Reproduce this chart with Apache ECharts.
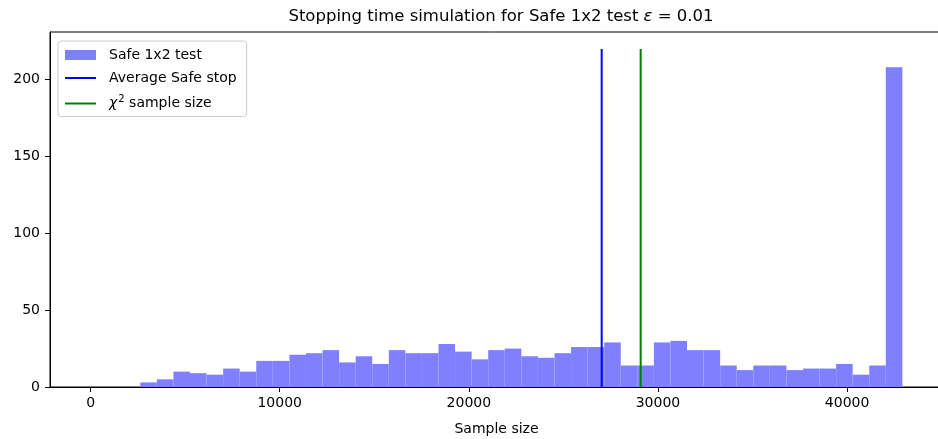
<!DOCTYPE html>
<html>
<head>
<meta charset="utf-8">
<script src="https://cdn.jsdelivr.net/npm/echarts@6/dist/echarts.min.js"></script>
<style>
  html, body { margin: 0; padding: 0; background: #fff; }
  #chart { width: 938px; height: 439px; }
</style>
</head>
<body>
<div id="chart"></div>
<script>
// histogram: 49 equal bins starting at 0
const binWidth = 876
const binCounts = [0, 0, 0, 3, 5, 10, 9, 8, 12, 10, 17, 17, 21, 22, 24, 16, 20, 15, 24, 22,
  22, 28, 23, 18, 24, 25, 20, 19, 22, 26, 26, 29, 14, 14, 29, 30, 24, 24, 14, 11,
  14, 14, 11, 12, 12, 15, 8, 14, 208]
const avgSafeStop = 27024
const chi2SampleSize = 29085
const lineTop = 220
const xTicks = [0, 10000, 20000, 30000, 40000]
const yTicks = [0, 50, 100, 150, 200]

const font = 'DejaVu Sans'
const lineIcon = 'path://M0,0H31V2H0Z'

const histData = binCounts.map((c, i) => [i * binWidth, (i + 1) * binWidth, c])

const chart = echarts.init(document.getElementById('chart'))

chart.setOption({
    animation: false,
    title: {
        text: '{a|Stopping time simulation for Safe 1x2 test }{e|ε}{a| = 0.01}',
        left: 496,
        textAlign: 'center',
        top: 3,
        textStyle: {
            fontWeight: 'normal',
            rich: {
                a: { fontFamily: font, fontSize: 16.5, fontWeight: 'normal', color: '#000' },
                e: { fontFamily: font, fontSize: 16.5, fontWeight: 'normal', fontStyle: 'italic', color: '#000' }
            }
        }
    },
    grid: {
        left: 50,
        top: 32,
        width: 893,
        bottom: 52,
        outerBoundsMode: 'none',
        show: true,
        borderColor: '#000',
        borderWidth: 1
    },
    legend: {
        orient: 'vertical',
        left: 58,
        top: 41,
        padding: [7, 10, 6, 7],
        itemGap: 9,
        itemWidth: 31,
        itemHeight: 10,
        backgroundColor: 'rgba(255,255,255,0.8)',
        borderColor: '#cccccc',
        borderWidth: 1,
        borderRadius: 3,
        data: [
            { name: 'Safe 1x2 test', icon: 'rect' },
            { name: 'Average Safe stop', icon: lineIcon },
            { name: 'χ² sample size', icon: lineIcon }
        ],
        formatter: name => name === 'χ² sample size' ? '{i|χ}{s|2}{t| sample size}' : name,
        textStyle: {
            fontFamily: font,
            fontSize: 14,
            color: '#000',
            padding: [0, 0, 0, 8],
            rich: {
                i: { fontFamily: font, fontSize: 14, fontStyle: 'italic', color: '#000' },
                s: { fontFamily: font, fontSize: 10, color: '#000', padding: [0, 0, 9, 1] },
                t: { fontFamily: font, fontSize: 14, color: '#000' }
            }
        }
    },
    xAxis: {
        type: 'value',
        min: -2146,
        max: 45071,
        name: 'Sample size',
        nameLocation: 'middle',
        nameGap: 35,
        nameTextStyle: { fontFamily: font, fontSize: 14, color: '#000' },
        splitLine: { show: false },
        axisLine: { onZero: false, lineStyle: { color: '#000', width: 1 } },
        axisTick: { show: true, length: 5, lineStyle: { color: '#000' }, customValues: xTicks },
        axisLabel: {
            fontFamily: font, fontSize: 14, color: '#000', margin: 9,
            customValues: xTicks,
            formatter: v => String(v)
        }
    },
    yAxis: {
        type: 'value',
        min: 0,
        max: 231,
        splitLine: { show: false },
        axisLine: { show: true, onZero: false, lineStyle: { color: '#000', width: 1 } },
        axisTick: { show: true, length: 5, lineStyle: { color: '#000' }, customValues: yTicks },
        axisLabel: { fontFamily: font, fontSize: 14, color: '#000', margin: 10, customValues: yTicks }
    },
    series: [
        {
            name: 'Safe 1x2 test',
            type: 'custom',
            itemStyle: { color: '#8080ff' },
            encode: { x: [0, 1], y: 2 },
            data: histData,
            renderItem (params, api) {
                const p0 = api.coord([api.value(0), api.value(2)])
                const p1 = api.coord([api.value(1), 0])
                return {
                    type: 'rect',
                    shape: { x: p0[0], y: p0[1], width: p1[0] - p0[0], height: p1[1] - p0[1] },
                    style: { fill: '#8080ff' }
                }
            }
        },
        {
            name: 'Average Safe stop',
            type: 'line',
            symbol: 'none',
            color: '#0000ff',
            lineStyle: { color: '#0000ff', width: 2 },
            data: [[avgSafeStop, 0], [avgSafeStop, lineTop]]
        },
        {
            name: 'χ² sample size',
            type: 'line',
            symbol: 'none',
            color: '#008000',
            lineStyle: { color: '#008000', width: 2 },
            data: [[chi2SampleSize, 0], [chi2SampleSize, lineTop]]
        }
    ]
})
</script>
</body>
</html>
